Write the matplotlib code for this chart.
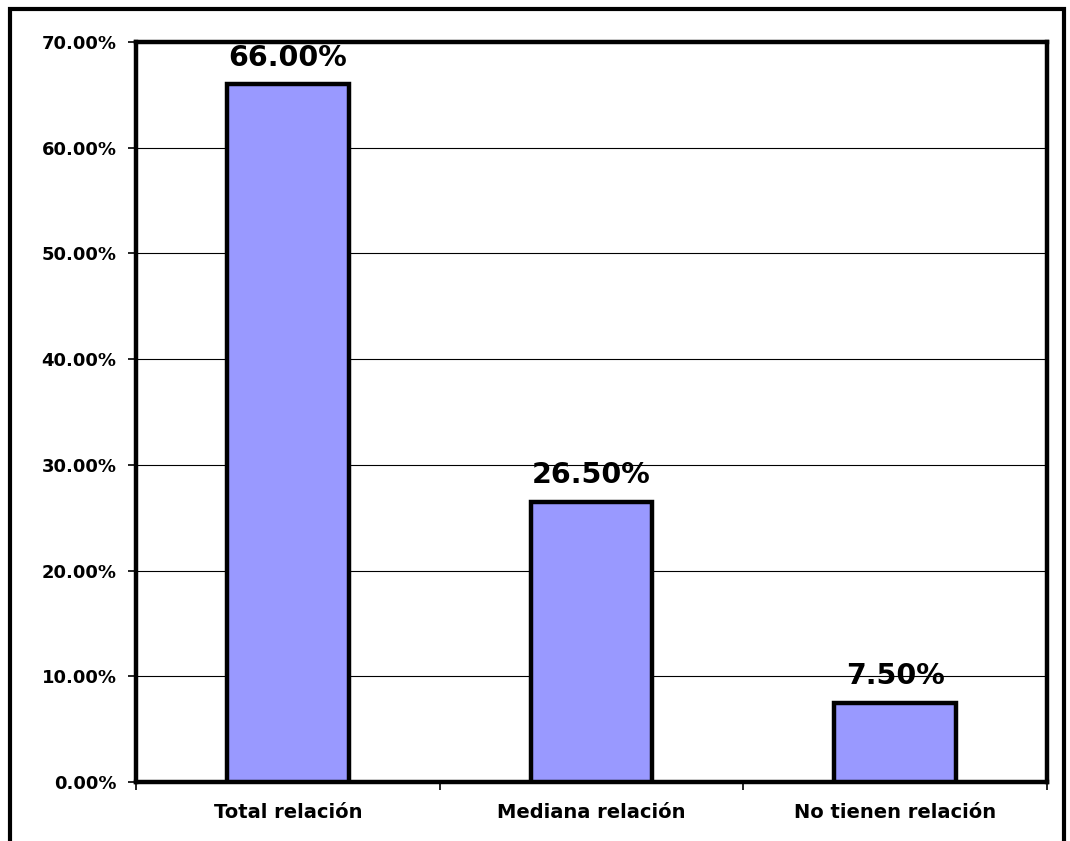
import numpy as np
import matplotlib
matplotlib.use('Agg')
import matplotlib.pyplot as plt
from matplotlib.patches import Rectangle
from matplotlib.ticker import FixedLocator, FuncFormatter

plt.rcParams['font.family'] = ['DejaVu Sans']
plt.rcParams['font.weight'] = 'bold'

categories = ['Total relación', 'Mediana relación', 'No tienen relación']
values = [66.0, 26.5, 7.5]
y_ticks = [0, 10, 20, 30, 40, 50, 60, 70]

BAR_COLOR = '#9999FF'

fig = plt.figure(figsize=(10.70, 8.41), dpi=100)
ax = fig.add_axes([136 / 1070, 1 - 782 / 841, (1047 - 136) / 1070, (782 - 42) / 841])

x = np.arange(len(categories))
ax.bar(x, values, width=0.4, color=BAR_COLOR, edgecolor='black', linewidth=3.2, zorder=3)

for xi, v in zip(x, values):
    ax.annotate(f'{v:.2f}%', (xi, v), xytext=(0, 9), textcoords='offset points',
                ha='center', va='bottom', fontsize=20.5, fontweight='bold', zorder=4)

ax.set_xlim(-0.5, len(categories) - 0.5)
ax.set_ylim(0, 70)
ax.set_yticks(y_ticks)
ax.yaxis.set_major_formatter(FuncFormatter(lambda v, p: f'{v:.2f}%'))
ax.grid(axis='y', color='black', linewidth=0.8, zorder=1)

ax.set_xticks(x)
ax.set_xticklabels(categories)
ax.xaxis.set_minor_locator(FixedLocator([-0.5, 0.5, 1.5, 2.5]))
ax.tick_params(axis='x', which='major', length=0, pad=15, labelsize=14)
ax.tick_params(axis='x', which='minor', length=6, width=1.2, direction='out')
ax.tick_params(axis='y', length=6, width=1.2, pad=8, labelsize=13)
for lbl in ax.get_xticklabels() + ax.get_yticklabels():
    lbl.set_fontweight('bold')

for s in ax.spines.values():
    s.set_linewidth(3.2)
    s.set_color('black')

# outer chart border (bottom edge cut off in the original)
fig.patches.append(Rectangle((10 / 1070, -0.02), 1054 / 1070, 1.02 - 9 / 841,
                             transform=fig.transFigure, fill=False,
                             edgecolor='black', linewidth=3.0))

fig.savefig('out.png', dpi=100)
